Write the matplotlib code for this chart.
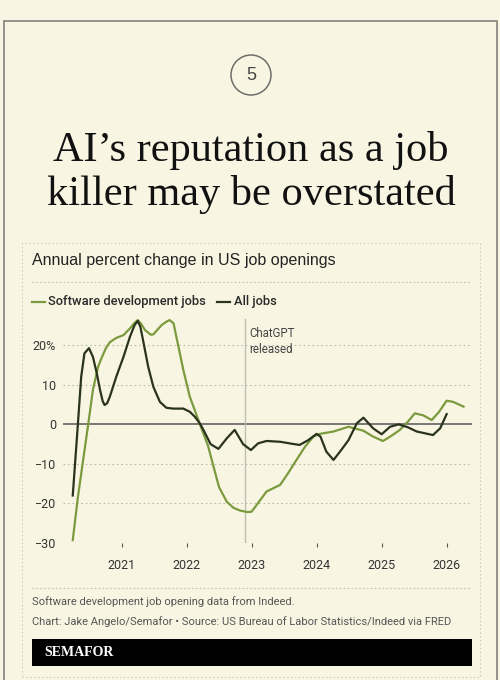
import matplotlib
matplotlib.use("Agg")
import matplotlib.pyplot as plt
from matplotlib.patches import Rectangle, Ellipse
from matplotlib.lines import Line2D

# ---- data (decimal years, % change YoY) ----
all_t = [2020.25, 2020.33, 2020.38, 2020.43, 2020.50, 2020.56, 2020.62, 2020.67,
         2020.71, 2020.74, 2020.78, 2020.82, 2020.92, 2021.03, 2021.13, 2021.20,
         2021.25, 2021.29, 2021.33, 2021.41, 2021.49, 2021.59, 2021.69, 2021.79,
         2021.95, 2022.05, 2022.13, 2022.21, 2022.26, 2022.37, 2022.49, 2022.62,
         2022.74, 2022.87, 2022.99, 2023.10, 2023.23, 2023.44, 2023.62, 2023.74,
         2023.87, 2024.00, 2024.06, 2024.15, 2024.26, 2024.36, 2024.49, 2024.62,
         2024.72, 2024.87, 2025.00, 2025.13, 2025.26, 2025.40, 2025.54, 2025.79,
         2025.90, 2026.00]
all_v = [-18.1, 0.2, 12.0, 17.9, 19.2, 17.0, 12.8, 8.6,
         5.8, 4.8, 5.3, 6.9, 12.0, 17.0, 22.1, 25.0,
         26.1, 24.6, 21.3, 14.5, 9.4, 5.6, 4.1, 3.9,
         3.9, 3.1, 1.8, 0.0, -1.5, -5.1, -6.3, -3.6,
         -1.5, -5.1, -6.6, -4.9, -4.3, -4.5, -5.0, -5.3,
         -4.1, -2.5, -3.2, -7.0, -9.1, -7.0, -4.1, 0.2,
         1.6, -1.1, -2.6, -0.7, -0.1, -0.8, -1.9, -2.8,
         -1.1, 2.5]

sw_t = [2020.25, 2020.33, 2020.41, 2020.49, 2020.56, 2020.64, 2020.69, 2020.76,
        2020.82, 2020.92, 2021.03, 2021.13, 2021.20, 2021.25, 2021.30, 2021.36,
        2021.45, 2021.49, 2021.62, 2021.70, 2021.74, 2021.80, 2021.87, 2021.95,
        2022.05, 2022.20, 2022.33, 2022.41, 2022.50, 2022.62, 2022.72, 2022.82,
        2022.94, 2023.00, 2023.10, 2023.23, 2023.44, 2023.56, 2023.69, 2023.82,
        2023.95, 2024.05, 2024.26, 2024.49, 2024.72, 2024.87, 2025.02, 2025.15,
        2025.28, 2025.40, 2025.51, 2025.64, 2025.77, 2025.88, 2026.00, 2026.10,
        2026.26]
sw_v = [-29.4, -18.4, -9.1, 0.2, 8.6, 14.5, 16.6, 19.2,
        20.7, 21.8, 22.5, 24.2, 25.6, 26.3, 25.4, 23.8,
        22.6, 22.7, 25.1, 26.0, 26.3, 25.5, 20.0, 13.7,
        6.9, 0.2, -5.5, -10.5, -16.0, -19.7, -21.2, -21.9,
        -22.3, -22.2, -20.0, -17.1, -15.4, -12.5, -9.1, -5.8,
        -3.2, -2.5, -1.9, -0.7, -1.7, -3.2, -4.3, -3.0,
        -1.5, 0.5, 2.7, 2.2, 1.0, 3.0, 5.9, 5.6,
        4.4]

years = [2021, 2022, 2023, 2024, 2025, 2026]
y_ticks = [-30, -20, -10, 0, 10, 20]
y_labels = ["\u221230", "\u221220", "\u221210", "0", "10", "20%"]
chatgpt_t = 2022.9

BG = "#f8f6e3"
GREEN = "#7b9a3e"
DARK = "#29331d"

W, H = 500, 680
fig = plt.figure(figsize=(W / 100, H / 100), dpi=100, facecolor=BG)


def fx(px):
    return px / W


def fy(py):
    return 1 - py / H


# outer card border
fig.add_artist(Line2D([fx(4), fx(497), fx(497)], [fy(21), fy(21), fy(680)],
                      color="#8b8b82", lw=1.3, transform=fig.transFigure))
fig.add_artist(Line2D([fx(4), fx(4)], [fy(21), fy(680)],
                      color="#8b8b82", lw=1.3, transform=fig.transFigure))

# numbered circle
fig.add_artist(Ellipse((fx(251), fy(75)), 40 / W, 40 / H, transform=fig.transFigure,
                       fill=False, ec="#6e6e6a", lw=1.1))
fig.text(fx(251), fy(75), "5", ha="center", va="center", fontsize=13,
         color="#444444", family="Liberation Sans")

# headline
fig.text(fx(251), fy(151), "AI\u2019s reputation as a job", ha="center", va="center",
         fontsize=30.5, family="Liberation Serif", color="#111111")
fig.text(fx(251), fy(195), "killer may be overstated", ha="center", va="center",
         fontsize=30.5, family="Liberation Serif", color="#111111")

# inner dotted panel
fig.add_artist(Rectangle((fx(22), fy(677)), (480 - 22) / W, (677 - 243) / H,
                         transform=fig.transFigure, fill=False, ec="#cfcdbd",
                         lw=0.8, ls=(0, (1.5, 2))))

fig.text(fx(32), fy(260), "Annual percent change in US job openings", ha="left",
         va="center", fontsize=11.5, family="Liberation Sans", color="#222222")
for yy in (282, 588):
    fig.add_artist(Line2D([fx(32), fx(470)], [fy(yy), fy(yy)], color="#c4c2b2",
                          lw=0.8, ls=(0, (1.5, 2)), transform=fig.transFigure))

# legend
fig.add_artist(Line2D([fx(32), fx(45)], [fy(302), fy(302)], color=GREEN, lw=1.6,
                      transform=fig.transFigure))
fig.text(fx(48), fy(302), "Software development jobs", ha="left", va="center",
         fontsize=9.3, family="Roboto", weight="medium", color="#2a2a2a")
fig.add_artist(Line2D([fx(217), fx(230)], [fy(302), fy(302)], color=DARK, lw=1.6,
                      transform=fig.transFigure))
fig.text(fx(234), fy(302), "All jobs", ha="left", va="center",
         fontsize=9.3, family="Roboto", weight="medium", color="#2a2a2a")

# chart axes
ax = fig.add_axes([fx(63), fy(542.5), (472 - 63) / W, (542.5 - 305.5) / H])
ax.set_facecolor("none")
ax.set_xlim(2020.1, 2026.39)
ax.set_ylim(-30, 30)
for s in ax.spines.values():
    s.set_visible(False)
for v in y_ticks:
    if v == 0:
        ax.axhline(0, color="#555555", lw=1.1, zorder=1)
    else:
        ax.axhline(v, color="#bdbbad", lw=0.8, ls=(0, (1.5, 2.5)), zorder=1)
ax.axvline(chatgpt_t, ymin=0, ymax=(20 + 30 + 6.5) / 60, color="#bdbdb5", lw=1.0, zorder=1)
ax.text(chatgpt_t + 0.06, 20.8, "ChatGPT\nreleased", ha="left", va="center",
        fontsize=8.3, family="Roboto", color="#444444", linespacing=1.3)

ax.plot(sw_t, sw_v, color=GREEN, lw=1.6, zorder=3, solid_joinstyle="round")
ax.plot(all_t, all_v, color=DARK, lw=1.6, zorder=4, solid_joinstyle="round")

ax.set_yticks(y_ticks)
ax.set_yticklabels(y_labels)
ax.set_xticks(years)
ax.set_xticklabels([str(y) for y in years])
ax.tick_params(axis="y", length=0, pad=5, labelsize=9, labelcolor="#333333")
ax.tick_params(axis="x", length=3, width=0.8, color="#555555", pad=9,
               labelsize=9, labelcolor="#333333")
for lab in ax.get_xticklabels() + ax.get_yticklabels():
    lab.set_family("Roboto")

# footer
fig.text(fx(32), fy(602), "Software development job opening data from Indeed.",
         ha="left", va="center", fontsize=8.0, family="Roboto", color="#555555")
fig.text(fx(32), fy(622),
         "Chart: Jake Angelo/Semafor \u2022 Source: US Bureau of Labor Statistics/Indeed via FRED",
         ha="left", va="center", fontsize=8.0, family="Roboto", color="#555555")
fig.add_artist(Rectangle((fx(32), fy(666)), (472 - 32) / W, (666 - 639) / H,
                         transform=fig.transFigure, fc="black", ec="none"))
fig.text(fx(44), fy(652.5), "SEMAFOR", ha="left", va="center", fontsize=10,
         family="Liberation Serif", weight="bold", color="white")

fig.savefig("out.png", dpi=100, facecolor=BG)
